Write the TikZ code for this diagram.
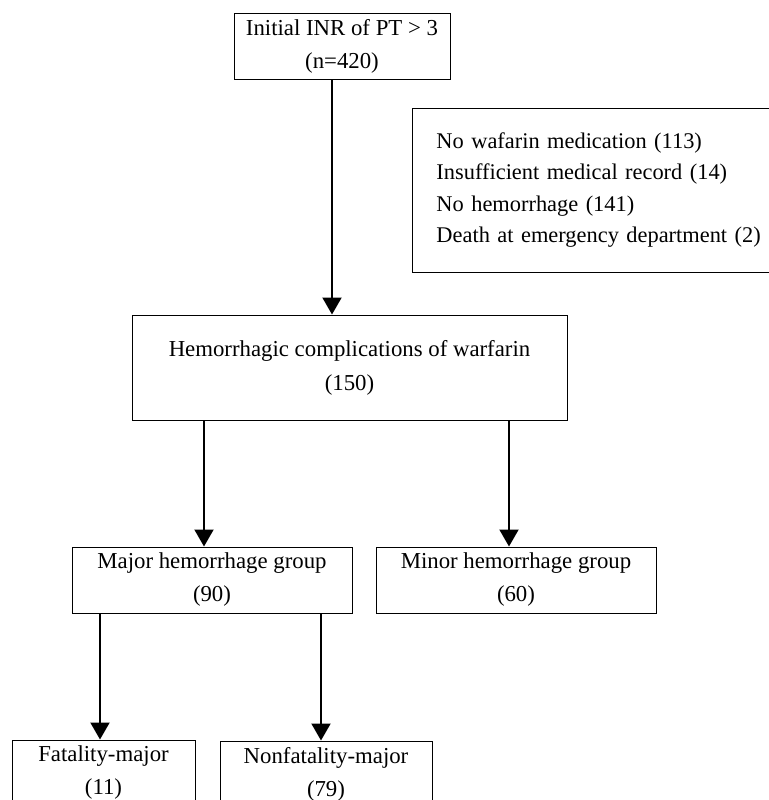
\documentclass[tikz,border=0pt]{standalone}
\usepackage{fontspec}
\setmainfont{Liberation Serif}
\usetikzlibrary{arrows.meta}
\begin{document}
\begin{tikzpicture}[x=0.5pt,y=-0.5pt,
		box/.style={draw,line width=0.5pt,inner sep=0pt,align=center,font=\fontsize{11.4}{16.5}\selectfont},
		arr/.style={line width=1pt,-{Triangle[width=9.5pt,length=8.5pt]}}]
		\useasboundingbox (0,0) rectangle (768,800);
		\node[box,minimum width=108pt,minimum height=33pt] (Init1) at (342,46) {Initial INR of PT > 3\\(n=420)};
		\node[box,anchor=west,align=left,text width=170pt,inner xsep=12pt,minimum height=82pt,font=\fontsize{11.2}{15.8}\selectfont] (Excl1) at (412,190) {No wafarin medication (113)\\Insufficient medical record (14)\\No hemorrhage (141)\\Death at emergency department (2)};
		\node[box,minimum width=217.5pt,minimum height=52.5pt,font=\fontsize{11.4}{17}\selectfont] (Hem2) at (349.5,367.5) {Hemorrhagic complications of warfarin\\(150)};
		\node[box,minimum width=140pt,minimum height=33pt] (Maj3a) at (212,580) {Major hemorrhage group\\(90)};
		\node[box,minimum width=140pt,minimum height=33pt] (Min3b) at (516,580) {Minor hemorrhage group\\(60)};
		\node[box,minimum width=91.5pt,minimum height=33pt] (Fat4a) at (103.5,773) {Fatality-major\\(11)};
		\node[box,minimum width=106pt,minimum height=33pt] (Nfat4b) at (326,774) {Nonfatality-major\\(79)};
		\draw[arr] ([xshift=-8.75pt]Hem2.north |- Init1.south) -- ([xshift=-8.75pt]Hem2.north);
		\draw[arr] ([xshift=-4pt]Maj3a.north |- Hem2.south) -- ([xshift=-4pt]Maj3a.north);
		\draw[arr] ([xshift=-3.5pt]Min3b.north |- Hem2.south) -- ([xshift=-3.5pt]Min3b.north);
		\draw[arr] ([xshift=-1.75pt]Fat4a.north |- Maj3a.south) -- ([xshift=-1.75pt]Fat4a.north);
		\draw[arr] ([xshift=-2.5pt]Nfat4b.north |- Maj3a.south) -- ([xshift=-2.5pt]Nfat4b.north);
	\end{tikzpicture}
\end{document}
